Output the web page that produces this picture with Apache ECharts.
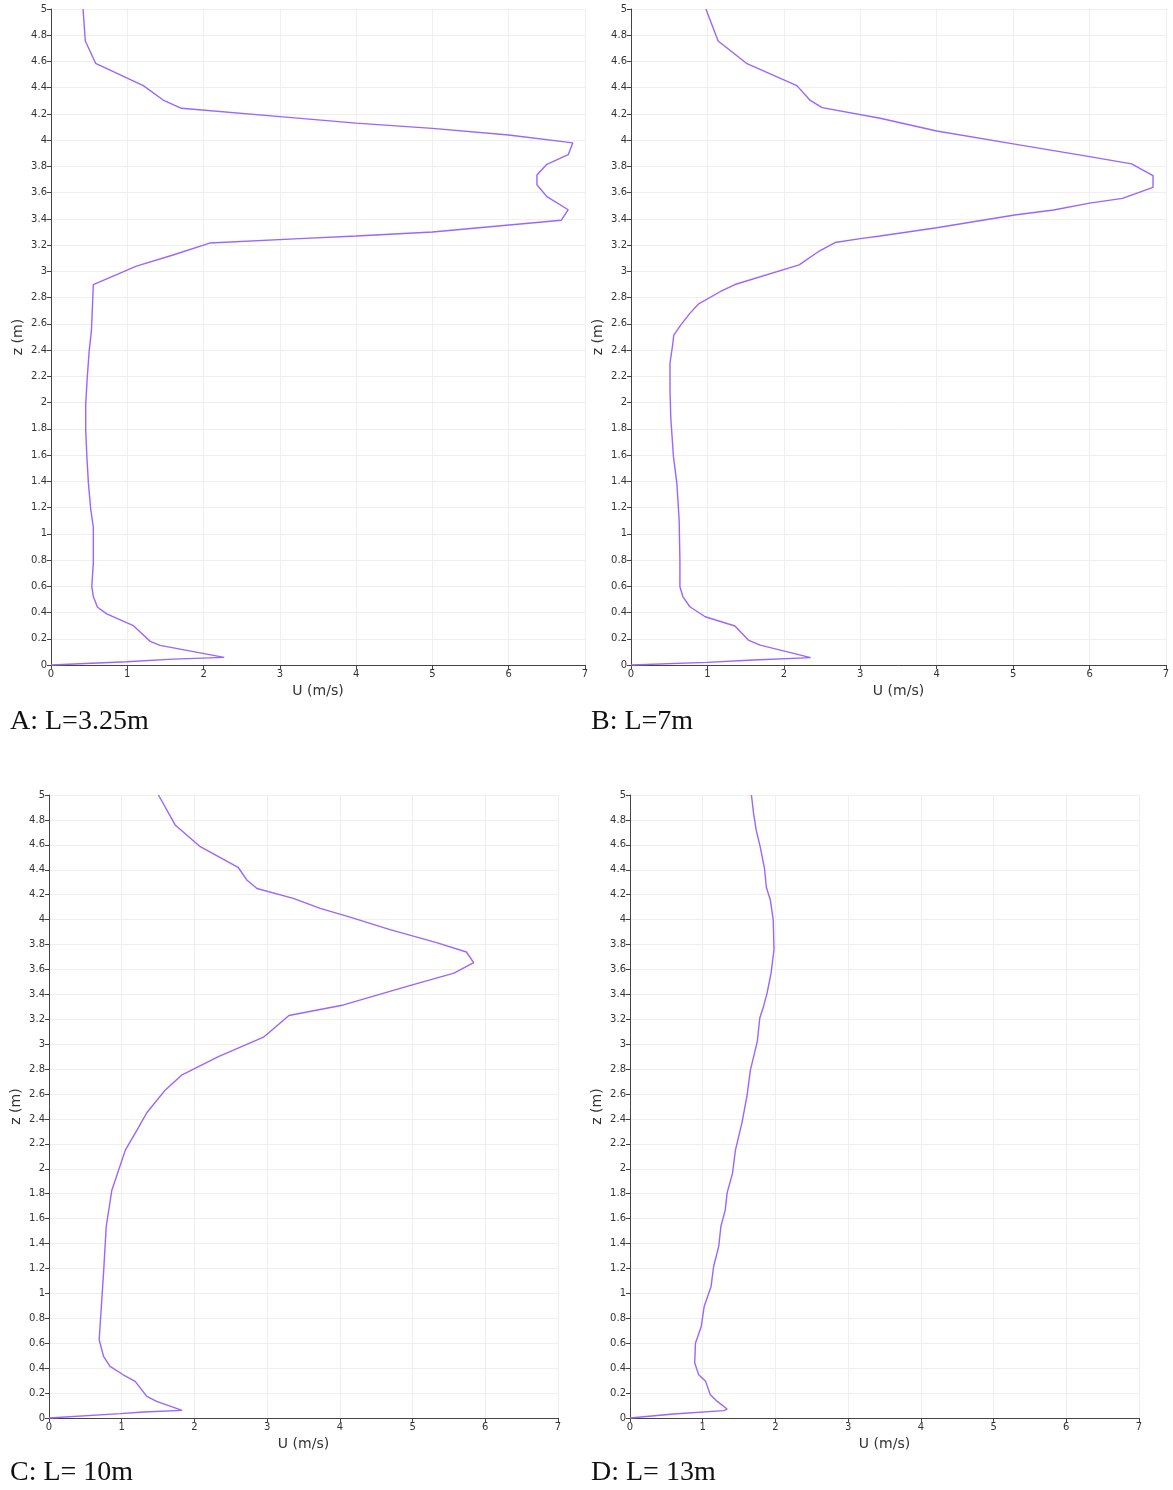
<!DOCTYPE html>
<html>
<head>
<meta charset="utf-8">
<title>Velocity profiles</title>
<script src="https://cdn.jsdelivr.net/npm/echarts@6/dist/echarts.min.js"></script>
<style>
  html, body { margin: 0; padding: 0; background: #ffffff; }
  #main { width: 1173px; height: 1490px; }
</style>
</head>
<body>
<div id="main"></div>
<script>
// profile data, pairs of [U (m/s), z (m)]
var profileA = [
  [0, 0], [0.99, 0.025], [1.6, 0.045], [2.27, 0.058], [2.27, 0.07], [1.43, 0.15], [1.30, 0.18],
  [1.19, 0.24], [1.08, 0.30], [0.73, 0.39], [0.61, 0.44], [0.555, 0.52], [0.535, 0.60],
  [0.555, 0.78], [0.555, 1.05], [0.52, 1.19], [0.49, 1.39], [0.47, 1.59], [0.455, 1.79],
  [0.455, 1.99], [0.475, 2.19], [0.50, 2.39], [0.53, 2.55], [0.555, 2.90], [1.12, 3.04],
  [1.60, 3.125], [2.08, 3.216], [3.26, 3.25], [4.0, 3.27], [5.0, 3.30], [6.69, 3.39],
  [6.78, 3.47], [6.50, 3.57], [6.37, 3.66], [6.37, 3.735], [6.50, 3.816], [6.78, 3.89],
  [6.84, 3.98], [6.0, 4.04], [5.0, 4.09], [4.0, 4.13], [3.0, 4.18], [1.71, 4.243],
  [1.47, 4.306], [1.21, 4.416], [0.585, 4.586], [0.45, 4.756], [0.42, 5]
];
var profileB = [
  [0, 0], [0.99, 0.02], [1.60, 0.038], [2.35, 0.056], [2.36, 0.069], [1.69, 0.152], [1.535, 0.19],
  [1.36, 0.297], [0.97, 0.368], [0.77, 0.444], [0.68, 0.52], [0.64, 0.597], [0.64, 0.80],
  [0.63, 1.105], [0.60, 1.385], [0.555, 1.59], [0.52, 1.89], [0.51, 2.10], [0.51, 2.30],
  [0.545, 2.44], [0.56, 2.515], [0.65, 2.59], [0.77, 2.68], [0.88, 2.75], [1.165, 2.845],
  [1.36, 2.90], [2.20, 3.05], [2.45, 3.15], [2.67, 3.22], [3.0, 3.25], [3.26, 3.27],
  [4.0, 3.333], [5.02, 3.43], [5.53, 3.468], [6.0, 3.52], [6.43, 3.557], [6.83, 3.64],
  [6.83, 3.73], [6.55, 3.82], [6.0, 3.875], [5.02, 3.97], [4.0, 4.07], [3.26, 4.167],
  [2.50, 4.248], [2.34, 4.306], [2.17, 4.416], [1.51, 4.586], [1.14, 4.756], [0.98, 5]
];
var profileC = [
  [0, 0], [0.98, 0.035], [1.30, 0.048], [1.83, 0.061], [1.84, 0.072], [1.48, 0.133], [1.345, 0.173],
  [1.185, 0.294], [1.02, 0.347], [0.84, 0.414], [0.75, 0.494], [0.69, 0.628], [0.72, 0.895],
  [0.75, 1.163], [0.787, 1.537], [0.865, 1.83], [1.05, 2.15], [1.21, 2.31], [1.345, 2.45],
  [1.60, 2.633], [1.83, 2.754], [2.33, 2.90], [2.95, 3.056], [3.30, 3.23],
  [4.05, 3.315], [4.96, 3.47], [5.57, 3.57], [5.84, 3.655], [5.74, 3.74], [5.33, 3.815],
  [4.69, 3.92], [4.14, 4.02], [3.73, 4.09], [3.36, 4.17], [2.86, 4.25], [2.72, 4.318],
  [2.60, 4.42], [2.08, 4.585], [1.735, 4.76], [1.505, 5]
];
var profileD = [
  [0, 0], [0.60, 0.032], [1.29, 0.059], [1.335, 0.072], [1.20, 0.133], [1.105, 0.187], [1.04, 0.294],
  [0.945, 0.347], [0.89, 0.441], [0.90, 0.60], [0.98, 0.735], [1.02, 0.895], [1.115, 1.056],
  [1.15, 1.216], [1.22, 1.377], [1.25, 1.537], [1.31, 1.67], [1.335, 1.805], [1.41, 1.965],
  [1.45, 2.15], [1.54, 2.37], [1.61, 2.59], [1.655, 2.79], [1.75, 3.02],
  [1.785, 3.21], [1.83, 3.29], [1.885, 3.41], [1.94, 3.57], [1.98, 3.757], [1.97, 3.997],
  [1.93, 4.157], [1.875, 4.26], [1.85, 4.41], [1.79, 4.585], [1.735, 4.72], [1.70, 4.85],
  [1.67, 5]
];
var captions = ['A: L=3.25m', 'B: L=7m', 'C: L= 10m', 'D: L= 13m'];
var xName = 'U (m/s)';
var yName = 'z (m)';

var profiles = [profileA, profileB, profileC, profileD];

var grids = [
  { left: 51, top: 9, width: 534, height: 656 },
  { left: 631, top: 9, width: 535, height: 656 },
  { left: 49, top: 795, width: 509, height: 623 },
  { left: 630, top: 795, width: 509, height: 623 }
];
var captionPos = [
  { left: 10, top: 708 },
  { left: 591, top: 708 },
  { left: 10, top: 1459 },
  { left: 591, top: 1459 }
];

var tickFont = { color: '#333', fontSize: 10, fontFamily: 'DejaVu Sans' };
var gridLine = { show: true, lineStyle: { color: '#efefef', width: 1 } };
var axisLine = { show: true, lineStyle: { color: '#444', width: 1 } };

var xAxes = [], yAxes = [], series = [], titles = [];
for (var i = 0; i < 4; i++) {
  xAxes.push({
    gridIndex: i, type: 'value', min: 0, max: 7, interval: 1,
    name: xName, nameLocation: 'middle', nameGap: 19,
    nameTextStyle: { color: '#333', fontSize: 14, fontFamily: 'DejaVu Sans' },
    axisLine: axisLine,
    axisTick: { show: true, length: 4, lineStyle: { color: '#444' } },
    axisLabel: Object.assign({ margin: 4 }, tickFont),
    splitLine: gridLine
  });
  yAxes.push({
    gridIndex: i, type: 'value', min: 0, max: 5, interval: 0.2,
    name: yName, nameLocation: 'middle', nameGap: 26,
    nameTextStyle: { color: '#333', fontSize: 14, fontFamily: 'DejaVu Sans' },
    axisLine: axisLine,
    axisTick: { show: true, length: 4, lineStyle: { color: '#444' } },
    axisLabel: Object.assign({ margin: 4 }, tickFont),
    splitLine: gridLine
  });
  series.push({
    type: 'line', xAxisIndex: i, yAxisIndex: i,
    data: profiles[i], showSymbol: false, symbol: 'none',
    lineStyle: { color: '#9966ff', width: 1.4 },
    clip: false
  });
  titles.push({
    text: captions[i], left: captionPos[i].left, top: captionPos[i].top, padding: 0,
    textStyle: { color: '#111', fontSize: 28, fontWeight: 'normal', fontFamily: 'Liberation Serif' }
  });
}

var myChart = echarts.init(document.getElementById('main'));
myChart.setOption({
  animation: false,
  backgroundColor: '#ffffff',
  title: titles,
  grid: grids,
  xAxis: xAxes,
  yAxis: yAxes,
  series: series
});
</script>
</body>
</html>
